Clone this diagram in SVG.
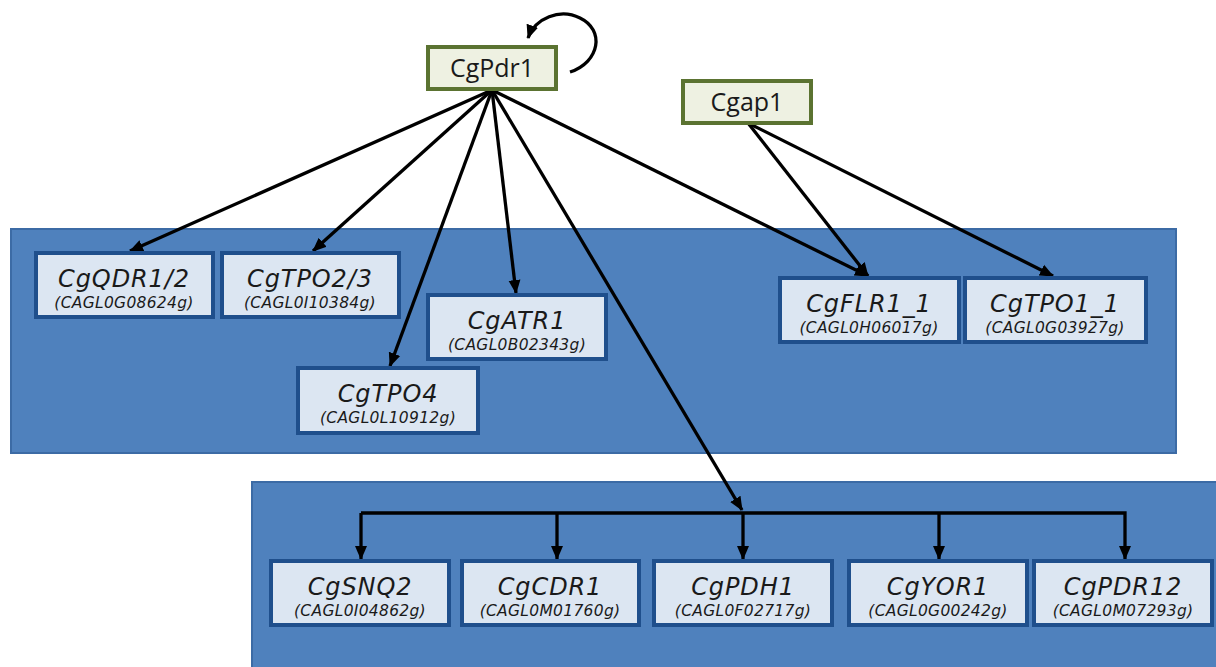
<svg xmlns="http://www.w3.org/2000/svg" width="1216" height="667" viewBox="0 0 1216 667">
<style>
.panel{fill:#4f81bd;stroke:#3c6ba5;stroke-width:2}
.gene rect{fill:#dce6f2;stroke:#1f4f8c;stroke-width:4}
.gene .t{font-family:"DejaVu Sans",Verdana,sans-serif;font-style:italic;font-size:24px;fill:#1a1a1a;text-anchor:middle;letter-spacing:0.9px}
.gene .s{font-family:"DejaVu Sans",Verdana,sans-serif;font-style:italic;font-size:15.5px;fill:#1a1a1a;text-anchor:middle;letter-spacing:0.3px}
.tf rect{fill:#eef1e2;stroke:#5b7331;stroke-width:4}
.tf text{font-family:"Open Sans","Liberation Sans",sans-serif;font-size:25px;fill:#1a1a1a;text-anchor:middle}
.edge{stroke:#000;stroke-width:3.3;fill:none}
</style>
<defs>
<marker id="ah" markerUnits="userSpaceOnUse" markerWidth="14" markerHeight="14" viewBox="0 0 14 14" refX="13" refY="7" orient="auto">
<path d="M0,1 L14,7 L0,13 Z" fill="#000"/>
</marker>
</defs>
<rect width="1216" height="667" fill="#fff"/>
<rect class="panel" x="11" y="229" width="1165" height="224"/>
<rect class="panel" x="252" y="482" width="970" height="190"/>

<g id="connectors">
<path class="edge" d="M570,72 C600,62 605,30 580,18 C560,8 535,18 528,38" marker-end="url(#ah)"/>
<line class="edge" x1="492" y1="90" x2="130" y2="251" marker-end="url(#ah)"/>
<line class="edge" x1="492" y1="90" x2="313" y2="251" marker-end="url(#ah)"/>
<line class="edge" x1="492" y1="90" x2="390" y2="366" marker-end="url(#ah)"/>
<line class="edge" x1="492" y1="90" x2="516" y2="293" marker-end="url(#ah)"/>
<line class="edge" x1="492" y1="90" x2="742" y2="510" marker-end="url(#ah)"/>
<line class="edge" x1="492" y1="90" x2="868" y2="276" marker-end="url(#ah)"/>
<line class="edge" x1="748" y1="123" x2="868" y2="276" marker-end="url(#ah)"/>
<line class="edge" x1="748" y1="123" x2="1053" y2="276" marker-end="url(#ah)"/>
<polyline class="edge" points="361,513 1125,513 1125,559" marker-end="url(#ah)"/>
<line class="edge" x1="361" y1="513" x2="361" y2="559" marker-end="url(#ah)"/>
<line class="edge" x1="557" y1="513" x2="557" y2="559" marker-end="url(#ah)"/>
<line class="edge" x1="743" y1="513" x2="743" y2="559" marker-end="url(#ah)"/>
<line class="edge" x1="939" y1="513" x2="939" y2="559" marker-end="url(#ah)"/>
</g>

<g id="CgPdr1" class="tf"><rect x="428" y="47" width="128" height="42"/><text x="492" y="77">CgPdr1</text></g>
<g id="Cgap1" class="tf"><rect x="683" y="81" width="128" height="42"/><text x="747" y="111">Cgap1</text></g>

<g id="CgQDR1_2" class="gene"><rect x="36" y="253" width="177" height="64"/><text class="t" x="124" y="287">CgQDR1/2</text><text class="s" x="124" y="308">(CAGL0G08624g)</text></g>
<g id="CgTPO2_3" class="gene"><rect x="222" y="253" width="177" height="64"/><text class="t" x="310" y="287">CgTPO2/3</text><text class="s" x="310" y="308">(CAGL0I10384g)</text></g>
<g id="CgATR1" class="gene"><rect x="428" y="295" width="178" height="64"/><text class="t" x="517" y="329">CgATR1</text><text class="s" x="517" y="350">(CAGL0B02343g)</text></g>
<g id="CgTPO4" class="gene"><rect x="298" y="368" width="180" height="65"/><text class="t" x="388" y="402">CgTPO4</text><text class="s" x="388" y="423">(CAGL0L10912g)</text></g>
<g id="CgFLR1_1" class="gene"><rect x="780" y="278" width="179" height="64"/><text class="t" x="869" y="312">CgFLR1_1</text><text class="s" x="869" y="333">(CAGL0H06017g)</text></g>
<g id="CgTPO1_1" class="gene"><rect x="965" y="278" width="181" height="64"/><text class="t" x="1055" y="312">CgTPO1_1</text><text class="s" x="1055" y="333">(CAGL0G03927g)</text></g>

<g id="CgSNQ2" class="gene"><rect x="271" y="561" width="178" height="64"/><text class="t" x="360" y="595">CgSNQ2</text><text class="s" x="360" y="616">(CAGL0I04862g)</text></g>
<g id="CgCDR1" class="gene"><rect x="462" y="561" width="177" height="64"/><text class="t" x="550" y="595">CgCDR1</text><text class="s" x="550" y="616">(CAGL0M01760g)</text></g>
<g id="CgPDH1" class="gene"><rect x="654" y="561" width="178" height="64"/><text class="t" x="743" y="595">CgPDH1</text><text class="s" x="743" y="616">(CAGL0F02717g)</text></g>
<g id="CgYOR1" class="gene"><rect x="849" y="561" width="178" height="64"/><text class="t" x="938" y="595">CgYOR1</text><text class="s" x="938" y="616">(CAGL0G00242g)</text></g>
<g id="CgPDR12" class="gene"><rect x="1034" y="561" width="178" height="64"/><text class="t" x="1123" y="595">CgPDR12</text><text class="s" x="1123" y="616">(CAGL0M07293g)</text></g>
</svg>
